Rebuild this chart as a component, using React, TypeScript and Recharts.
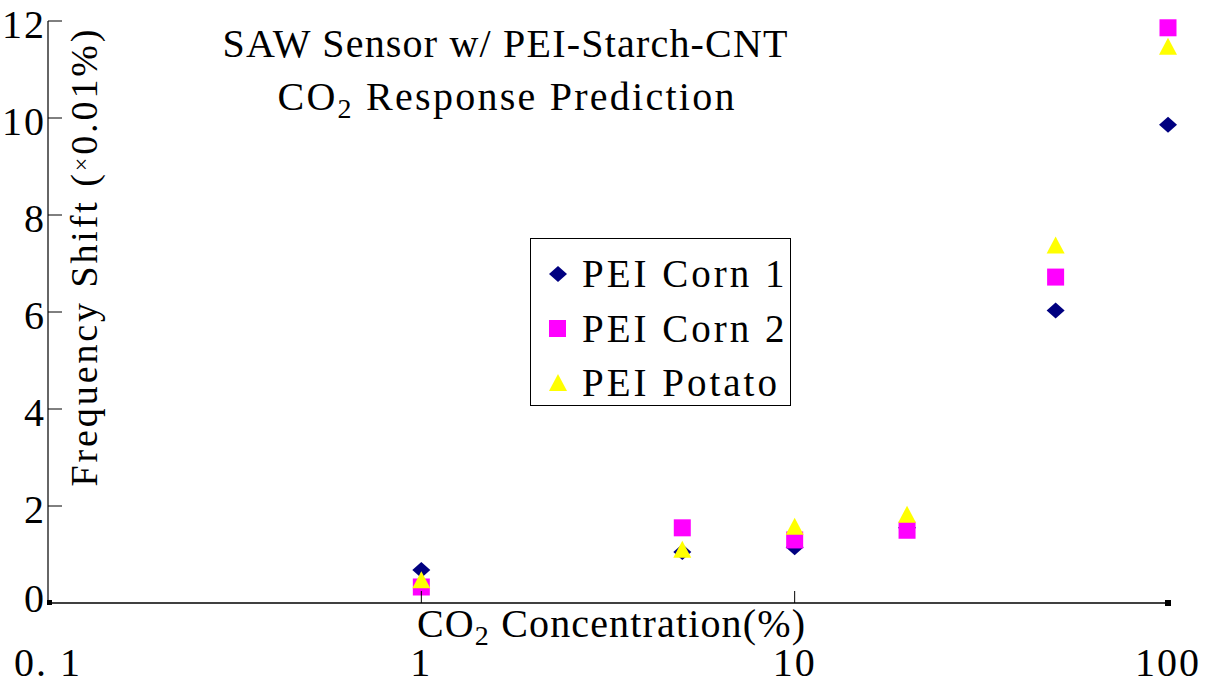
import React from 'react';
import { ScatterChart, Scatter, XAxis, YAxis, Legend, Customized } from 'recharts';

const xValues = [1, 5, 10, 20, 50, 100];
const corn1 = [0.68, 1.05, 1.15, 1.55, 6.03, 9.86];
const corn2 = [0.33, 1.55, 1.3, 1.5, 6.72, 11.86];
const potato = [0.47, 1.1, 1.57, 1.82, 7.37, 11.47];
const xTicks = [0.1, 1, 10, 100];
const xTickLabels = ['0. 1', '1', '10', '100'];
const yTicks = [0, 2, 4, 6, 8, 10, 12];
const seriesNames = ['PEI Corn 1', 'PEI Corn 2', 'PEI Potato'];
const colors = ['#000080', '#FF00FF', '#FFFF00'];

const FONT = '"Liberation Serif", "DejaVu Serif", serif';

const toData = (ys: number[]) => xValues.map((x, i) => ({ x, y: ys[i] }));

const DiamondShape = (p: any) => (
  <polygon points={`${p.cx},${p.cy - 8} ${p.cx + 9},${p.cy} ${p.cx},${p.cy + 8} ${p.cx - 9},${p.cy}`} fill={colors[0]} />
);
const SquareShape = (p: any) => <rect x={p.cx - 8.5} y={p.cy - 8.5} width={17} height={17} fill={colors[1]} />;
const TriangleShape = (p: any) => (
  <polygon points={`${p.cx},${p.cy - 9} ${p.cx + 9},${p.cy + 8} ${p.cx - 9},${p.cy + 8}`} fill={colors[2]} />
);

const YTick = (props: any) => {
  const { x, y, payload } = props;
  const v = payload.value;
  return (
    <g>
      {v !== 0 && <line x1={x} x2={x + 14} y1={y} y2={y} stroke="#000" strokeWidth={1} />}
      {v === 0 && <rect x={x - 1} y={y - 3} width={5} height={5} fill="#000" />}
      <text x={x - 2} y={v === 0 ? y - 5 : y + 3} textAnchor="end" dominantBaseline="central" fontFamily={FONT} fontSize={40} letterSpacing={2} fill="#000">
        {v}
      </text>
    </g>
  );
};

const XTick = (props: any) => {
  const { x, y, payload, index } = props;
  const v = payload.value;
  const isEnd = v === 0.1 || v === 100;
  return (
    <g>
      {!isEnd && <line x1={x} x2={x} y1={y} y2={y - 12} stroke="#000" strokeWidth={1} />}
      {v === 100 && <rect x={x - 3} y={y - 3} width={6} height={6} fill="#000" />}
      <text x={x} y={y + 73} textAnchor="middle" fontFamily={FONT} fontSize={40} letterSpacing={2} fill="#000">
        {xTickLabels[xTicks.indexOf(v)] ?? xTickLabels[index]}
      </text>
    </g>
  );
};

const Titles = () => (
  <g fontFamily={FONT} fill="#000">
    <text x={505} y={57} textAnchor="middle" fontSize={40} textLength={565} lengthAdjust="spacing">
      SAW Sensor w/ PEI-Starch-CNT
    </text>
    <text x={506} y={110} textAnchor="middle" fontSize={40} textLength={457} lengthAdjust="spacing">
      CO<tspan fontSize={28} dy={8}>2</tspan>
      <tspan dy={-8}> Response Prediction</tspan>
    </text>
    <text x={611} y={637} textAnchor="middle" fontSize={40} textLength={388} lengthAdjust="spacing">
      CO<tspan fontSize={28} dy={8}>2</tspan>
      <tspan dy={-8}> Concentration(%)</tspan>
    </text>
    <text x={97} y={258} textAnchor="middle" fontSize={38} transform="rotate(-90 97 258)" textLength={457} lengthAdjust="spacing">
      Frequency Shift (<tspan fontSize={24} dy={-8}>×</tspan><tspan dy={8}>0.01%)</tspan>
    </text>
  </g>
);

const LegendMarker = ({ i }: { i: number }) => (
  <svg width={22} height={22} style={{ display: 'block' }}>
    {i === 0 && <polygon points="11,3 20,11 11,19 2,11" fill={colors[0]} />}
    {i === 1 && <rect x={2} y={2} width={17} height={17} fill={colors[1]} />}
    {i === 2 && <polygon points="11,2 20,19 2,19" fill={colors[2]} />}
  </svg>
);

const LegendContent = () => (
  <div
    style={{
      boxSizing: 'border-box',
      width: 261,
      height: 168,
      border: '1.5px solid #000',
      background: '#fff',
      padding: '8px 0 0 16px',
      fontFamily: FONT,
      fontSize: 39,
      letterSpacing: 3,
      color: '#000',
    }}
  >
    {seriesNames.map((n, i) => (
      <div key={n} style={{ display: 'flex', alignItems: 'center', height: 54.5 }}>
        <LegendMarker i={i} />
        <span style={{ marginLeft: 13, lineHeight: '54px' }}>{n}</span>
      </div>
    ))}
  </div>
);

export default function App() {
  return (
    <div style={{ position: 'absolute', left: 0, top: 0, width: 1212, height: 685, background: '#fff' }}>
      <ScatterChart width={1212} height={685} margin={{ top: 21, right: 44, left: 47, bottom: 81 }}>
        <XAxis
          dataKey="x"
          type="number"
          scale="log"
          domain={[0.1, 100]}
          ticks={xTicks}
          interval={0}
          height={1}
          tickSize={0}
          tickMargin={0}
          tickLine={false}
          axisLine={{ stroke: '#000', strokeWidth: 1.5 }}
          tick={XTick}
        />
        <YAxis
          dataKey="y"
          type="number"
          domain={[0, 12]}
          ticks={yTicks}
          interval={0}
          width={1}
          tickSize={0}
          tickMargin={0}
          tickLine={false}
          axisLine={{ stroke: '#333', strokeWidth: 1.5 }}
          tick={YTick}
        />
        <Legend
          layout="vertical"
          align="center"
          verticalAlign="middle"
          content={LegendContent}
          wrapperStyle={{ left: 530, top: 238, width: 261, height: 168 }}
        />
        <Scatter name={seriesNames[0]} data={toData(corn1)} fill={colors[0]} shape={DiamondShape} isAnimationActive={false} />
        <Scatter name={seriesNames[1]} data={toData(corn2)} fill={colors[1]} shape={SquareShape} isAnimationActive={false} />
        <Scatter name={seriesNames[2]} data={toData(potato)} fill={colors[2]} shape={TriangleShape} isAnimationActive={false} />
        <Customized component={Titles} />
      </ScatterChart>
    </div>
  );
}
